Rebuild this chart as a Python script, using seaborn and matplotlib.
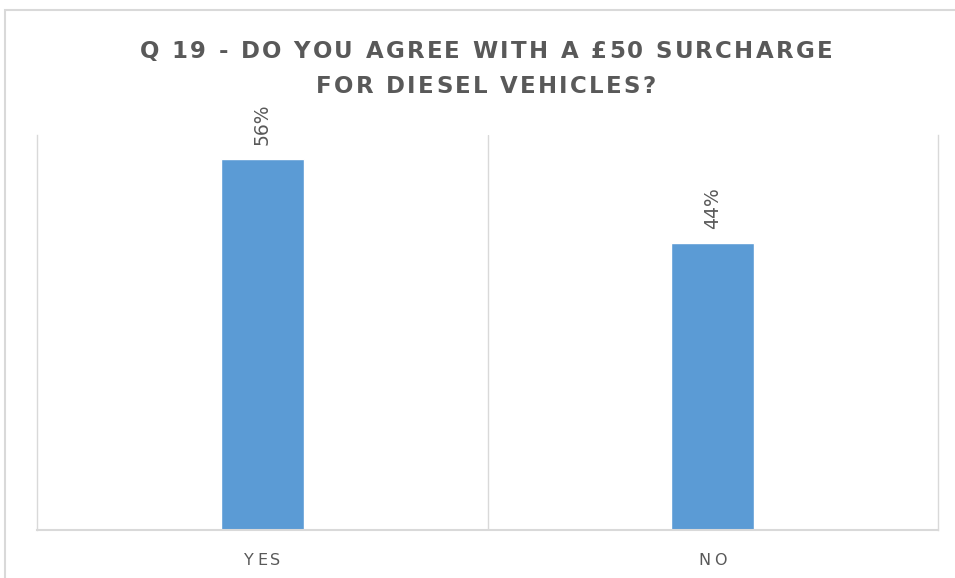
import numpy as np
import matplotlib
matplotlib.use("Agg")
import matplotlib.pyplot as plt
import seaborn as sns
from matplotlib.patches import Rectangle
from matplotlib.font_manager import FontProperties, findfont, get_font

# =========================
# DATA
# =========================
categories = ["YES", "NO"]
values = [56.4, 43.6]
title_lines = ["Q 19 - DO YOU AGREE WITH A £50 SURCHARGE", "FOR DIESEL VEHICLES?"]

bar_color = "#5B9BD5"
text_gray = "#595959"
grid_gray = "#D9D9D9"

W, H = 955, 578

# =========================
# LETTER-SPACED TEXT HELPER
# =========================
def tracked_text(fig, x_px, y_px, s, track_px, size, weight="normal", color=text_gray):
    fp = FontProperties(family="DejaVu Sans", size=size, weight=weight)
    font = get_font(findfont(fp))
    font.set_size(size, 100)
    adv = [font.load_char(ord(c)).linearHoriAdvance / 65536 for c in s]
    total = sum(adv) + track_px * (len(s) - 1)
    x = x_px - total / 2
    for c, a in zip(s, adv):
        fig.text(x / W, 1 - y_px / H, c, ha="left", va="baseline",
                 fontproperties=fp, color=color)
        x += a + track_px

# =========================
# FIGURE
# =========================
sns.set_style("white")
plt.rcParams['font.family'] = ['DejaVu Sans']

fig = plt.figure(figsize=(W / 100, H / 100), dpi=100)
ax = fig.add_axes([37/W, 1 - 530/H, (938 - 37)/W, (530 - 135)/H])

sns.barplot(
    x=categories,
    y=values,
    color=bar_color,
    width=0.184,
    saturation=1,
    ax=ax
)

ax.set_xlim(-0.5, 1.5)
ax.set_ylim(0, 60)

# vertical gridline between categories
ax.axvline(0.5, color=grid_gray, lw=1, zorder=0)

for side in ["left", "right"]:
    ax.spines[side].set_color(grid_gray)
    ax.spines[side].set_linewidth(1)
ax.spines["top"].set_visible(False)
ax.spines["bottom"].set_color(grid_gray)
ax.spines["bottom"].set_linewidth(1.5)

ax.set_yticks([])
ax.set_xlabel("")
ax.set_ylabel("")
ax.set_xticklabels([])
ax.tick_params(axis="x", length=0)

# category labels, letter-spaced
for i, cat in enumerate(categories):
    xp = ax.transData.transform((i, 0))[0]
    tracked_text(fig, xp, 565, cat, 3.2, 11.5)

# data labels
for i, v in enumerate(values):
    ax.annotate(
        f"{round(v):.0f}%",
        xy=(i, v),
        xytext=(0, 10),
        textcoords="offset points",
        rotation=90,
        ha="center",
        va="bottom",
        fontsize=13.5,
        color=text_gray
    )

# title
tracked_text(fig, 486, 58, title_lines[0], 2.3, 16.5, weight="bold")
tracked_text(fig, 486, 93, title_lines[1], 2.3, 16.5, weight="bold")

# chart border (cropped at right and bottom)
fig.patches.append(Rectangle(
    (5/W, -0.1), 1.2, 1.1 - 10/H,
    transform=fig.transFigure, fill=False,
    edgecolor=grid_gray, lw=1.5
))

fig.savefig("out.png", dpi=100)
